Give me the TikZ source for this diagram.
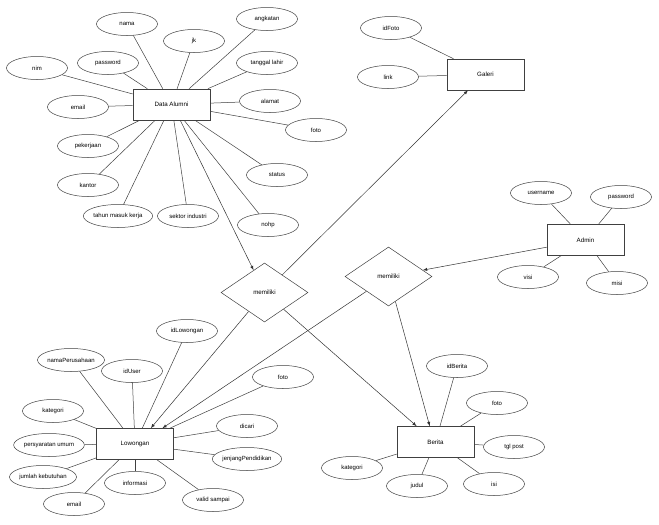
\documentclass[tikz,border=0pt]{standalone}
\usepackage{fontspec}
\setmainfont{Liberation Sans}
\usepackage{tikz}
\usetikzlibrary{shapes,arrows}

\begin{document}
\begin{tikzpicture}[x=1pt,y=-1pt]
\tikzstyle{entity}=[rectangle, draw=black!75, line width=0.6pt, minimum width=77pt, minimum height=31pt, inner sep=0pt, font=\fontsize{6.2}{7}\selectfont]
\tikzstyle{attr}=[ellipse, draw=black!75, line width=0.5pt, minimum width=61pt, minimum height=23pt, inner sep=0pt, font=\fontsize{6}{7}\selectfont]
\tikzstyle{rel}=[diamond, draw=black!75, line width=0.5pt, minimum width=87pt, minimum height=59pt, inner sep=0pt, font=\fontsize{6.2}{7}\selectfont]
\tikzstyle{connect}=[-latex, draw=black!80, line width=0.5pt]
\tikzstyle{line}=[draw=black!75, line width=0.5pt]

	\fill[white] (0,0) rectangle (659,525);
	\useasboundingbox (0,0) rectangle (659,525);

	% entitas
	\node[entity] (da) at (171.5,104.5) []{Data Alumni};
	\node[entity] (gal) at (485.5,74.5) []{Galeri};
	\node[entity] (adm) at (585.5,240) []{Admin};
	\node[entity] (lw) at (135,444) []{Lowongan};
	\node[entity] (ber) at (435.5,442) []{Berita};

	% relasi
	\node[rel] (rel_1) at (264.5,292.5) []{memiliki};
	\node[rel] (rel_2) at (388.5,276.5) []{memiliki};

	% atribut data alumni
	\node[attr] (da_1) at (127,24) []{nama};
	\node[attr] (da_2) at (194,41) []{jk};
	\node[attr] (da_3) at (267,19) []{angkatan};
	\node[attr] (da_4) at (108,63) []{password};
	\node[attr] (da_5) at (37,68) []{nim};
	\node[attr] (da_6) at (267,63) []{tanggal lahir};
	\node[attr] (da_7) at (270,101) []{alamat};
	\node[attr] (da_8) at (78,107) []{email};
	\node[attr] (da_9) at (316,130) []{foto};
	\node[attr] (da_10) at (88,146) []{pekerjaan};
	\node[attr] (da_11) at (277,175) []{status};
	\node[attr] (da_12) at (88,185) []{kantor};
	\node[attr] (da_13) at (118,216) []{tahun masuk kerja};
	\node[attr] (da_14) at (188,216) []{sektor industri};
	\node[attr] (da_15) at (268,225) []{nohp};

	% atribut galeri
	\node[attr] (gal_1) at (391,28) []{idFoto};
	\node[attr] (gal_2) at (388,77) []{link};

	% atribut admin
	\node[attr] (adm_1) at (541,193) []{username};
	\node[attr] (adm_2) at (621,197) []{password};
	\node[attr] (adm_3) at (528,277) []{visi};
	\node[attr] (adm_4) at (617,283) []{misi};

	% atribut lowongan
	\node[attr] (lw_1) at (187,331) []{idLowongan};
	\node[attr] (lw_2) at (71,360) []{namaPerusahaan};
	\node[attr] (lw_3) at (132,371) []{idUser};
	\node[attr] (lw_4) at (283,377) []{foto};
	\node[attr] (lw_5) at (53,411) []{kategori};
	\node[attr] (lw_6) at (247,426) []{dicari};
	\node[attr] (lw_7) at (49,445) []{persyaratan umum};
	\node[attr] (lw_8) at (247,459) []{jenjangPendidikan};
	\node[attr] (lw_9) at (43,477) []{jumlah kebutuhan};
	\node[attr] (lw_10) at (135,483) []{informasi};
	\node[attr] (lw_11) at (74,504) []{email};
	\node[attr] (lw_12) at (213,500) []{valid sampai};

	% atribut berita
	\node[attr] (ber_1) at (457,366) []{idBerita};
	\node[attr] (ber_2) at (497,403) []{foto};
	\node[attr] (ber_3) at (514,447) []{tgl post};
	\node[attr] (ber_4) at (494,484) []{isi};
	\node[attr] (ber_5) at (417,486) []{judul};
	\node[attr] (ber_6) at (352,468) []{kategori};

	\path[line]
	 (da) edge[] (da_1)
	 (da) edge[] (da_2)
	 (da) edge[] (da_3)
	 (da) edge[] (da_4)
	 (da) edge[] (da_5)
	 (da) edge[] (da_6)
	 (da) edge[] (da_7)
	 (da) edge[] (da_8)
	 (da) edge[] (da_9)
	 (da) edge[] (da_10)
	 (da) edge[] (da_11)
	 (da) edge[] (da_12)
	 (da) edge[] (da_13)
	 (da) edge[] (da_14)
	 (da) edge[] (da_15)
	 (gal) edge[] (gal_1)
	 (gal) edge[] (gal_2)
	 (adm) edge[] (adm_1)
	 (adm) edge[] (adm_2)
	 (adm) edge[] (adm_3)
	 (adm) edge[] (adm_4)
	 (lw) edge[] (lw_1)
	 (lw) edge[] (lw_2)
	 (lw) edge[] (lw_3)
	 (lw) edge[] (lw_4)
	 (lw) edge[] (lw_5)
	 (lw) edge[] (lw_6)
	 (lw) edge[] (lw_7)
	 (lw) edge[] (lw_8)
	 (lw) edge[] (lw_9)
	 (lw) edge[] (lw_10)
	 (lw) edge[] (lw_11)
	 (lw) edge[] (lw_12)
	 (ber) edge[] (ber_1)
	 (ber) edge[] (ber_2)
	 (ber) edge[] (ber_3)
	 (ber) edge[] (ber_4)
	 (ber) edge[] (ber_5)
	 (ber) edge[] (ber_6);

	\path
	 (da.-61) edge[connect] (rel_1)
	 (rel_1) edge[connect] (gal.222)
	 (rel_1) edge[connect] (lw.45)
	 (rel_1) edge[connect] (ber.140)
	 (adm) edge[connect] (rel_2)
	 (rel_2) edge[connect] (lw.30)
	 (rel_2) edge[connect] (ber.110);

\end{tikzpicture}
\end{document}
